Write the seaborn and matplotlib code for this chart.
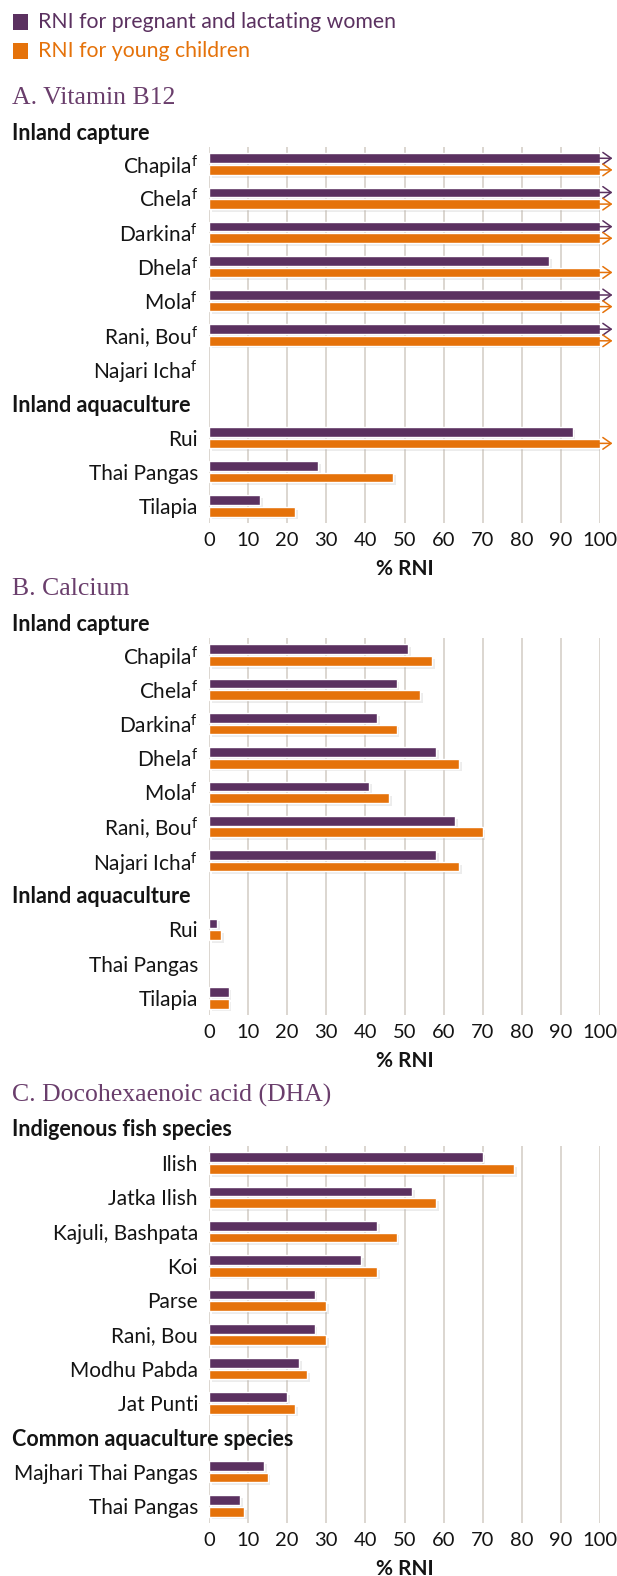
import numpy as np
import pandas as pd
import matplotlib
matplotlib.use("Agg")
import matplotlib.pyplot as plt
import matplotlib.patheffects as pe
from matplotlib.patches import Rectangle
from matplotlib.transforms import blended_transform_factory
import seaborn as sns

# ---------------- data ----------------
series = ["RNI for pregnant and lactating women", "RNI for young children"]

b12_fish = ["Chapila", "Chela", "Darkina", "Dhela", "Mola", "Rani, Bou",
            "Najari Icha", "Rui", "Thai Pangas", "Tilapia"]
b12_groups = ["Inland capture"] * 7 + ["Inland aquaculture"] * 3
b12_footnote = [True] * 7 + [False] * 3
b12_women = [100, 100, 100, 87, 100, 100, np.nan, 93, 28, 13]
b12_children = [100, 100, 100, 100, 100, 100, np.nan, 100, 47, 22]
b12_women_over = [True, True, True, False, True, True, False, False, False, False]
b12_children_over = [True, True, True, True, True, True, False, True, False, False]

ca_fish = ["Chapila", "Chela", "Darkina", "Dhela", "Mola", "Rani, Bou",
           "Najari Icha", "Rui", "Thai Pangas", "Tilapia"]
ca_groups = ["Inland capture"] * 7 + ["Inland aquaculture"] * 3
ca_footnote = [True] * 7 + [False] * 3
ca_women = [51, 48, 43, 58, 41, 63, 58, 2, np.nan, 5]
ca_children = [57, 54, 48, 64, 46, 70, 64, 3, np.nan, 5]

dha_fish = ["Ilish", "Jatka Ilish", "Kajuli, Bashpata", "Koi", "Parse", "Rani, Bou",
            "Modhu Pabda", "Jat Punti", "Majhari Thai Pangas", "Thai Pangas"]
dha_groups = ["Indigenous fish species"] * 8 + ["Common aquaculture species"] * 2
dha_footnote = [False] * 10
dha_women = [70, 52, 43, 39, 27, 27, 23, 20, 14, 8]
dha_children = [78, 58, 48, 43, 30, 30, 25, 22, 15, 9]

panel_titles = ["A. Vitamin B12", "B. Calcium", "C. Docohexaenoic acid (DHA)"]
x_ticks = list(range(0, 101, 10))
x_label = "% RNI"

# ---------------- style ----------------
PURPLE = "#5B3160"
ORANGE = "#E5720A"
TITLE_C = "#6A3E6C"
GRID_C = "#D9D3CD"
TXT = "#141414"

sns.set_theme(style="white")
plt.rcParams["font.family"] = ["Lato", "DejaVu Sans"]
plt.rcParams["mathtext.fontset"] = "custom"
plt.rcParams["mathtext.rm"] = "Lato"
plt.rcParams["mathtext.it"] = "Lato:italic"
plt.rcParams["mathtext.bf"] = "Lato:bold"

W, H = 617, 1576
fig = plt.figure(figsize=(W / 100, H / 100), dpi=100)
fig.patch.set_facecolor("white")


def fx(px):
    return px / W


def fy(py):
    return 1 - py / H


def panel(top_px, bot_px, title, title_y, head_y, fish, groups, footnotes,
          women, children, w_over=None, c_over=None):
    ax = fig.add_axes([fx(209), fy(bot_px), fx(600) - fx(209), (bot_px - top_px) / H])
    rows = []
    prev = groups[0]
    for f, g, fn in zip(fish, groups, footnotes):
        if g != prev:
            rows.append((g, "", True))
            prev = g
        rows.append((f, f + (r"$^{\mathrm{f}}$" if fn else ""), False))
    order = [r[0] for r in rows]
    df = pd.DataFrame({
        "fish": list(fish) * 2,
        "series": [series[0]] * len(fish) + [series[1]] * len(fish),
        "value": list(women) + list(children),
    })
    sns.barplot(data=df, x="value", y="fish", hue="series", order=order,
                hue_order=series, palette=[PURPLE, ORANGE], orient="h",
                width=0.68, gap=0.17, saturation=1, legend=False,
                errorbar=None, ax=ax)
    for p in ax.patches:
        p.set_path_effects([pe.SimplePatchShadow(offset=(2, -2), shadow_rgbFace="#aaaaaa", alpha=0.22),
                            pe.Normal()])
    # arrows for values exceeding 100%
    overs = [w_over, c_over]
    colors = [PURPLE, ORANGE]
    for k, cont in enumerate(ax.containers):
        flags = overs[k]
        if flags is None:
            continue
        fdict = dict(zip(fish, flags))
        for p in cont.patches:
            yc = p.get_y() + p.get_height() / 2
            key = order[int(round(yc))]
            if fdict.get(key, False):
                ax.annotate("", xy=(103.2, yc), xytext=(99.8, yc),
                            arrowprops=dict(arrowstyle="->,head_length=0.5,head_width=0.35",
                                            color=colors[k], lw=1.1,
                                            shrinkA=0, shrinkB=0, mutation_scale=12),
                            annotation_clip=False)
    ax.set_xlim(0, 100)
    ax.set_ylim(len(order) - 0.5, -0.5)
    ax.set_xticks(x_ticks)
    ax.set_xticklabels([str(t) for t in x_ticks], fontsize=14.5, color=TXT)
    ax.set_yticks(range(len(order)))
    ax.set_yticklabels([r[1] for r in rows], fontsize=15, color=TXT)
    ax.tick_params(axis="y", length=0, pad=8)
    ax.tick_params(axis="x", length=0, pad=6.5)
    ax.set_ylabel("")
    ax.set_xlabel(x_label, fontsize=15, fontweight="bold", color=TXT, labelpad=7)
    for s in ax.spines.values():
        s.set_visible(False)
    ax.grid(axis="x", color=GRID_C, lw=1.3)
    ax.grid(axis="y", visible=False)
    ax.set_axisbelow(True)
    # headers
    fig.text(fx(12), fy(title_y), title, fontsize=18.5, family="Liberation Serif",
             color=TITLE_C, va="center", ha="left")
    fig.text(fx(12), fy(head_y), groups[0], fontsize=15.5, fontweight="bold",
             color=TXT, va="center", ha="left")
    tr = blended_transform_factory(fig.transFigure, ax.transData)
    for i, r in enumerate(rows):
        if r[2]:
            ax.text(fx(12), i + 0.05, r[0], transform=tr, fontsize=15.5, fontweight="bold",
                    color=TXT, va="center", ha="left", clip_on=False)
    return ax


panel(147, 523, panel_titles[0], 98, 133, b12_fish, b12_groups, b12_footnote,
      b12_women, b12_children, b12_women_over, b12_children_over)
panel(638, 1015, panel_titles[1], 589, 624, ca_fish, ca_groups, ca_footnote,
      ca_women, ca_children)
panel(1146, 1523, panel_titles[2], 1095, 1130, dha_fish, dha_groups, dha_footnote,
      dha_women, dha_children)

# legend
for i, (s, c) in enumerate(zip(series, [PURPLE, ORANGE])):
    yc = 22 + i * 29
    fig.add_artist(Rectangle((fx(13), fy(yc + 7.5)), 15 / W, 15 / H,
                             transform=fig.transFigure, color=c, lw=0))
    fig.text(fx(38), fy(yc), s, color=c, fontsize=15.3, va="center", ha="left")

fig.savefig("out.png", dpi=100, facecolor="white")
